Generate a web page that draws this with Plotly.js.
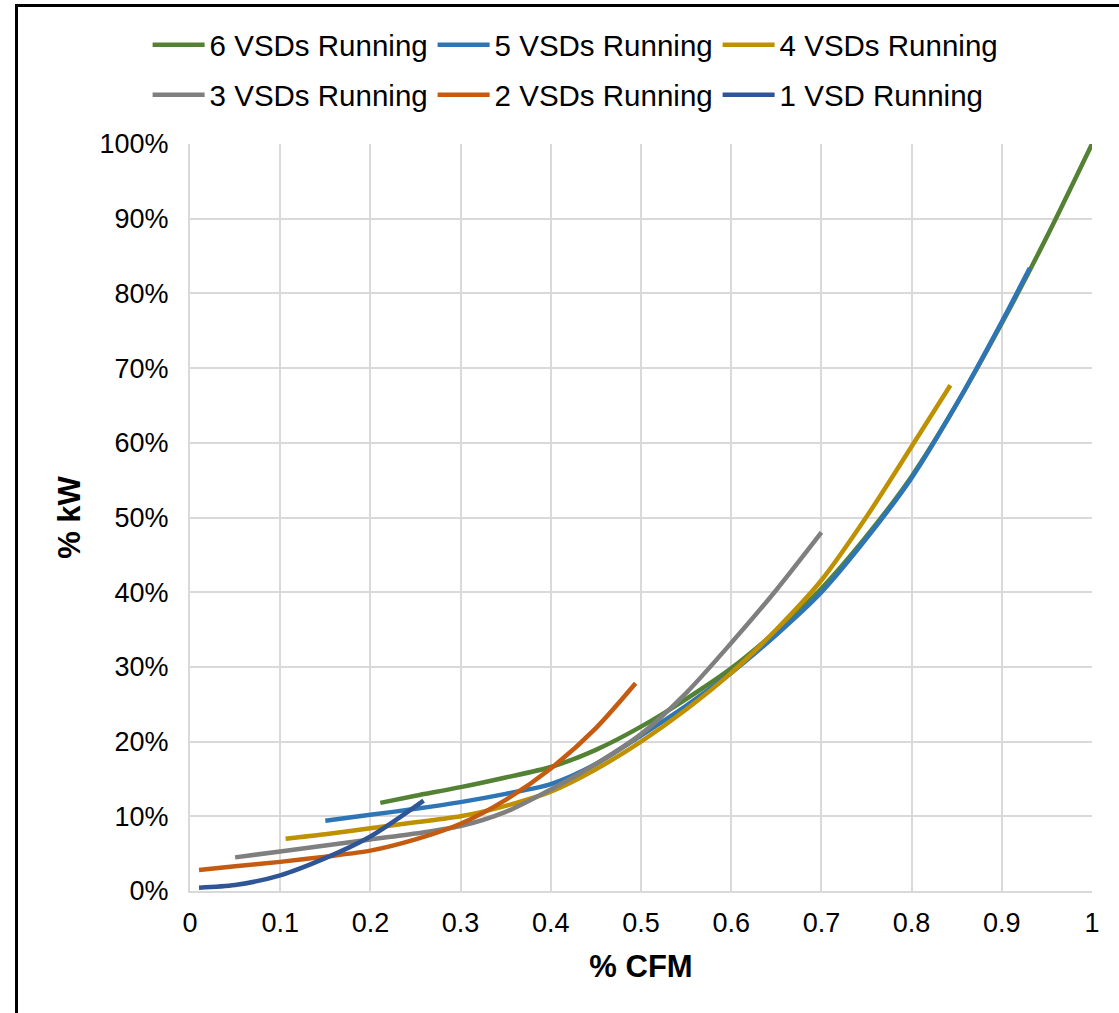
<!DOCTYPE html>
<html>
<head>
<meta charset="utf-8">
<script src="https://cdn.plot.ly/plotly-3.0.1.min.js"></script>
<style>
html,body{margin:0;padding:0;background:#fff;}
#wrap{position:relative;width:1119px;height:1013px;overflow:hidden;}
#chart{position:absolute;left:0;top:0;width:1119px;height:1013px;}
#frame{position:absolute;left:15px;top:4px;width:1200px;height:1100px;border-left:3px solid #000;border-top:3px solid #000;pointer-events:none;}
</style>
</head>
<body>
<div id="wrap"><div id="chart"></div><div id="frame"></div></div>
<script>
const seriesNames = ["6 VSDs Running","5 VSDs Running","4 VSDs Running","3 VSDs Running","2 VSDs Running","1 VSD Running"];
const seriesColors = ["#548235","#2E75B6","#BF9000","#7F7F7F","#C55A11","#2F5597"];

const x6 = [0.211,0.25,0.3,0.35,0.4,0.45,0.5,0.55,0.6,0.65,0.7,0.75,0.8,0.85,0.9,0.95,1.0];
const y6 = [11.8,12.75,13.9,15.2,16.6,18.9,22.0,25.7,29.8,34.8,40.5,47.5,55.5,65.2,76.0,87.6,100];

const x5 = [0.15,0.2,0.25,0.3,0.35,0.4,0.45,0.5,0.55,0.6,0.65,0.7,0.75,0.8,0.85,0.9,0.931];
const y5 = [9.4,10.2,11.0,11.9,13.0,14.3,17.0,20.8,24.8,29.2,34.3,40.0,47.2,55.3,65.2,76.2,83.4];

const x4 = [0.106,0.15,0.2,0.25,0.3,0.35,0.4,0.45,0.5,0.55,0.6,0.65,0.7,0.75,0.8,0.843];
const y4 = [7.0,7.6,8.4,9.2,10.0,11.4,13.3,16.3,20.0,24.3,29.2,35.0,41.6,50.1,59.5,67.7];

const x3 = [0.05,0.1,0.15,0.2,0.25,0.3,0.35,0.4,0.45,0.5,0.55,0.6,0.65,0.7];
const y3 = [4.5,5.3,6.1,6.9,7.7,8.7,10.6,13.6,17.0,21.0,26.5,33.2,40.3,48.0];

const x2 = [0.01,0.05,0.1,0.15,0.2,0.25,0.3,0.35,0.4,0.45,0.494];
const y2 = [2.8,3.3,3.9,4.6,5.4,6.9,9.0,12.2,16.4,21.8,27.8];

const x1 = [0.01,0.05,0.1,0.15,0.2,0.259];
const y1 = [0.45,0.8,2.1,4.4,7.3,12.1];

const xs = [x6,x5,x4,x3,x2,x1];
const ys = [y6,y5,y4,y3,y2,y1];

const font = "Liberation Sans, Arial, sans-serif";
const traces = seriesNames.map((n,i)=>({
  type:'scatter', mode:'lines', name:n, x:xs[i], y:ys[i],
  legend: i < 3 ? 'legend' : 'legend2',
  line:{color:seriesColors[i], width:4.5, shape:'spline', smoothing:0.8}
}));

const legBase = {orientation:'h', x:-0.047, xanchor:'left', xref:'paper', yref:'paper', yanchor:'middle',
  font:{family:font, size:29.5, color:'#000'}, traceorder:'normal',
  entrywidth:218, entrywidthmode:'pixels', itemwidth:52, bgcolor:'rgba(0,0,0,0)'};

const layout = {
  width:1119, height:1013,
  margin:{l:190, r:27, t:144, b:122, autoexpand:false},
  paper_bgcolor:'#fff', plot_bgcolor:'#fff',
  font:{family:font, color:'#000', size:27},
  showlegend:true,
  legend:Object.assign({}, legBase, {y:(891-45)/747}),
  legend2:Object.assign({}, legBase, {y:(891-95)/747}),
  xaxis:{range:[0,1], dtick:0.1, tick0:0, showgrid:true, gridcolor:'#d9d9d9', gridwidth:2,
         showline:true, linecolor:'#d9d9d9', linewidth:2, zeroline:false, ticks:'',
         tickfont:{family:font, size:27, color:'#000'}, ticklabelstandoff:7,
         title:{text:'<b>% CFM</b>', font:{family:font, size:31, color:'#000'}, standoff:18}},
  yaxis:{range:[0,100], dtick:10, tick0:0, ticksuffix:'%', showgrid:true, gridcolor:'#d9d9d9', gridwidth:2,
         showline:true, linecolor:'#d9d9d9', linewidth:2, zeroline:false, ticks:'',
         tickfont:{family:font, size:27, color:'#000'}, ticklabelstandoff:14,
         title:{text:'<b>% kW</b>', font:{family:font, size:31, color:'#000'}, standoff:10}}
};
Plotly.newPlot('chart', traces, layout, {displayModeBar:false, staticPlot:true});
</script>
</body>
</html>
